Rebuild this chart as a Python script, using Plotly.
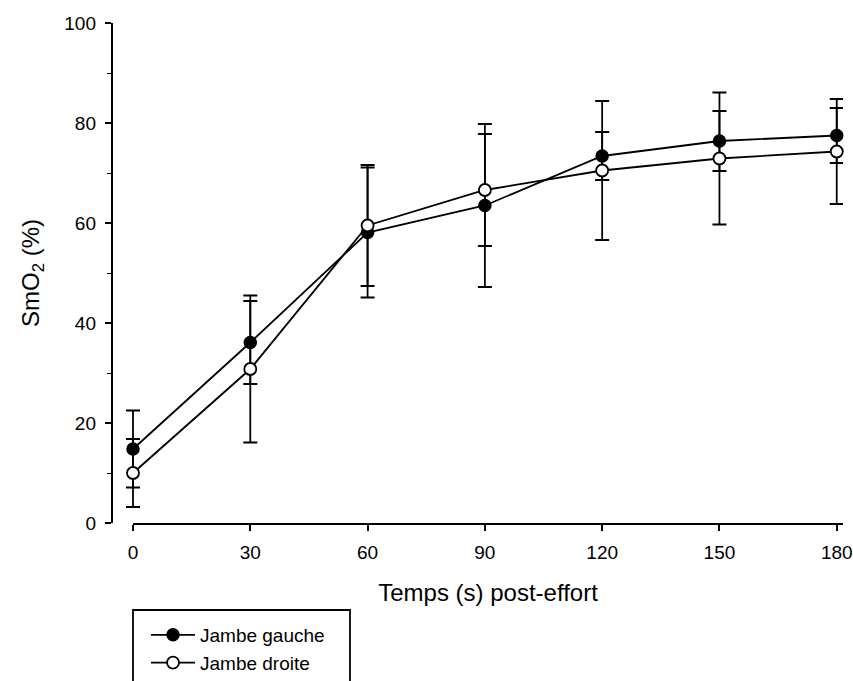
import plotly.graph_objects as go

times = [0, 30, 60, 90, 120, 150, 180]
gauche_mean = [14.8, 36.1, 58.1, 63.5, 73.4, 76.4, 77.5]
gauche_sd = [7.7, 8.3, 13.0, 16.3, 4.8, 6.0, 5.5]
droite_mean = [10.0, 30.8, 59.5, 66.6, 70.5, 72.9, 74.3]
droite_sd = [6.8, 14.7, 12.1, 11.2, 13.9, 13.2, 10.5]

x_ticks = [0, 30, 60, 90, 120, 150, 180]
y_ticks = [0, 20, 40, 60, 80, 100]

W, H = 853, 681
ML, MR, MT, MB = 100, 10, 23, 158
PW = W - ML - MR
PH = H - MT - MB

def px_x(p):
    return (p - ML) / PW

def px_y(p):
    return (H - MB - p) / PH

FONT = "Liberation Sans, Arial, sans-serif"

# scale of the time axis (px per second) so that the drawn axis spans 133..843 px
X0_PX, X_END_PX, Y_AXIS_PX = 133, 843, 111.7
X_MAX = 181.6
PX_PER = (X_END_PX - X0_PX) / X_MAX
X_MIN_DATA = -(X0_PX - (Y_AXIS_PX + 1)) / PX_PER

fig = go.Figure()
# invisible trace that makes the visible time axis (x2) get drawn
fig.add_trace(go.Scatter(
    x=times, y=gauche_mean, xaxis="x2", yaxis="y", mode="markers",
    marker=dict(opacity=0), showlegend=False, hoverinfo="skip",
))
fig.add_trace(go.Scatter(
    x=times, y=gauche_mean, name="Jambe gauche", mode="lines+markers",
    line=dict(color="black", width=1.8),
    marker=dict(symbol="circle", size=12, color="black", line=dict(color="black", width=1.5)),
    error_y=dict(type="data", array=gauche_sd, visible=True, color="black", thickness=1.8, width=7),
    cliponaxis=False,
))
fig.add_trace(go.Scatter(
    x=times, y=droite_mean, name="Jambe droite", mode="lines+markers",
    line=dict(color="black", width=1.8),
    marker=dict(symbol="circle", size=12, color="white", line=dict(color="black", width=1.8)),
    error_y=dict(type="data", array=droite_sd, visible=True, color="black", thickness=1.8, width=7),
    cliponaxis=False,
))

fig.update_layout(
    width=W, height=H,
    margin=dict(l=ML, r=MR, t=MT, b=MB, autoexpand=False),
    paper_bgcolor="white", plot_bgcolor="rgba(0,0,0,0)",
    font=dict(family=FONT, color="black", size=19),
    xaxis=dict(
        domain=[px_x(Y_AXIS_PX + 1), px_x(X_END_PX)], range=[X_MIN_DATA, X_MAX],
        visible=False, showgrid=False, zeroline=False,
    ),
    xaxis2=dict(
        domain=[px_x(X0_PX), px_x(X_END_PX)], range=[0, X_MAX], anchor="y",
        tickvals=x_ticks, ticktext=[str(v) for v in x_ticks],
        ticks="outside", ticklen=6, tickwidth=1.8, tickcolor="black",
        ticklabelstandoff=5,
        showline=True, linecolor="black", linewidth=1.8,
        showgrid=False, zeroline=False, automargin=False,
        title=dict(text="Temps (s) post-effort", font=dict(size=24), standoff=22),
        tickfont=dict(size=19),
    ),
    yaxis=dict(
        anchor="free", position=px_x(Y_AXIS_PX), range=[0, 100],
        tickvals=y_ticks, ticktext=[str(v) for v in y_ticks],
        ticks="outside", ticklen=6, tickwidth=1.8, tickcolor="black",
        ticklabelstandoff=5,
        minor=dict(dtick=10, ticks="outside", ticklen=4, tickwidth=1.2, tickcolor="black"),
        showline=True, linecolor="black", linewidth=1.8,
        showgrid=False, zeroline=False, automargin=False,
        title=dict(text="SmO<sub>2</sub> (%)", font=dict(size=24), standoff=17),
        tickfont=dict(size=19),
    ),
    showlegend=True,
    legend=dict(
        x=px_x(146), y=px_y(616), xanchor="left", yanchor="top",
        bgcolor="rgba(0,0,0,0)", borderwidth=0, itemwidth=44,
        font=dict(size=19, family=FONT), tracegroupgap=0,
    ),
    shapes=[dict(
        type="rect", xref="paper", yref="paper",
        x0=px_x(133), x1=px_x(350), y0=px_y(610), y1=px_y(700),
        line=dict(color="black", width=1.8), fillcolor="rgba(0,0,0,0)", layer="below",
    )],
)

fig.write_html(
    "out.html",
    config={"displayModeBar": False},
    post_script="document.body.style.margin='0';document.body.style.overflow='hidden';",
)
